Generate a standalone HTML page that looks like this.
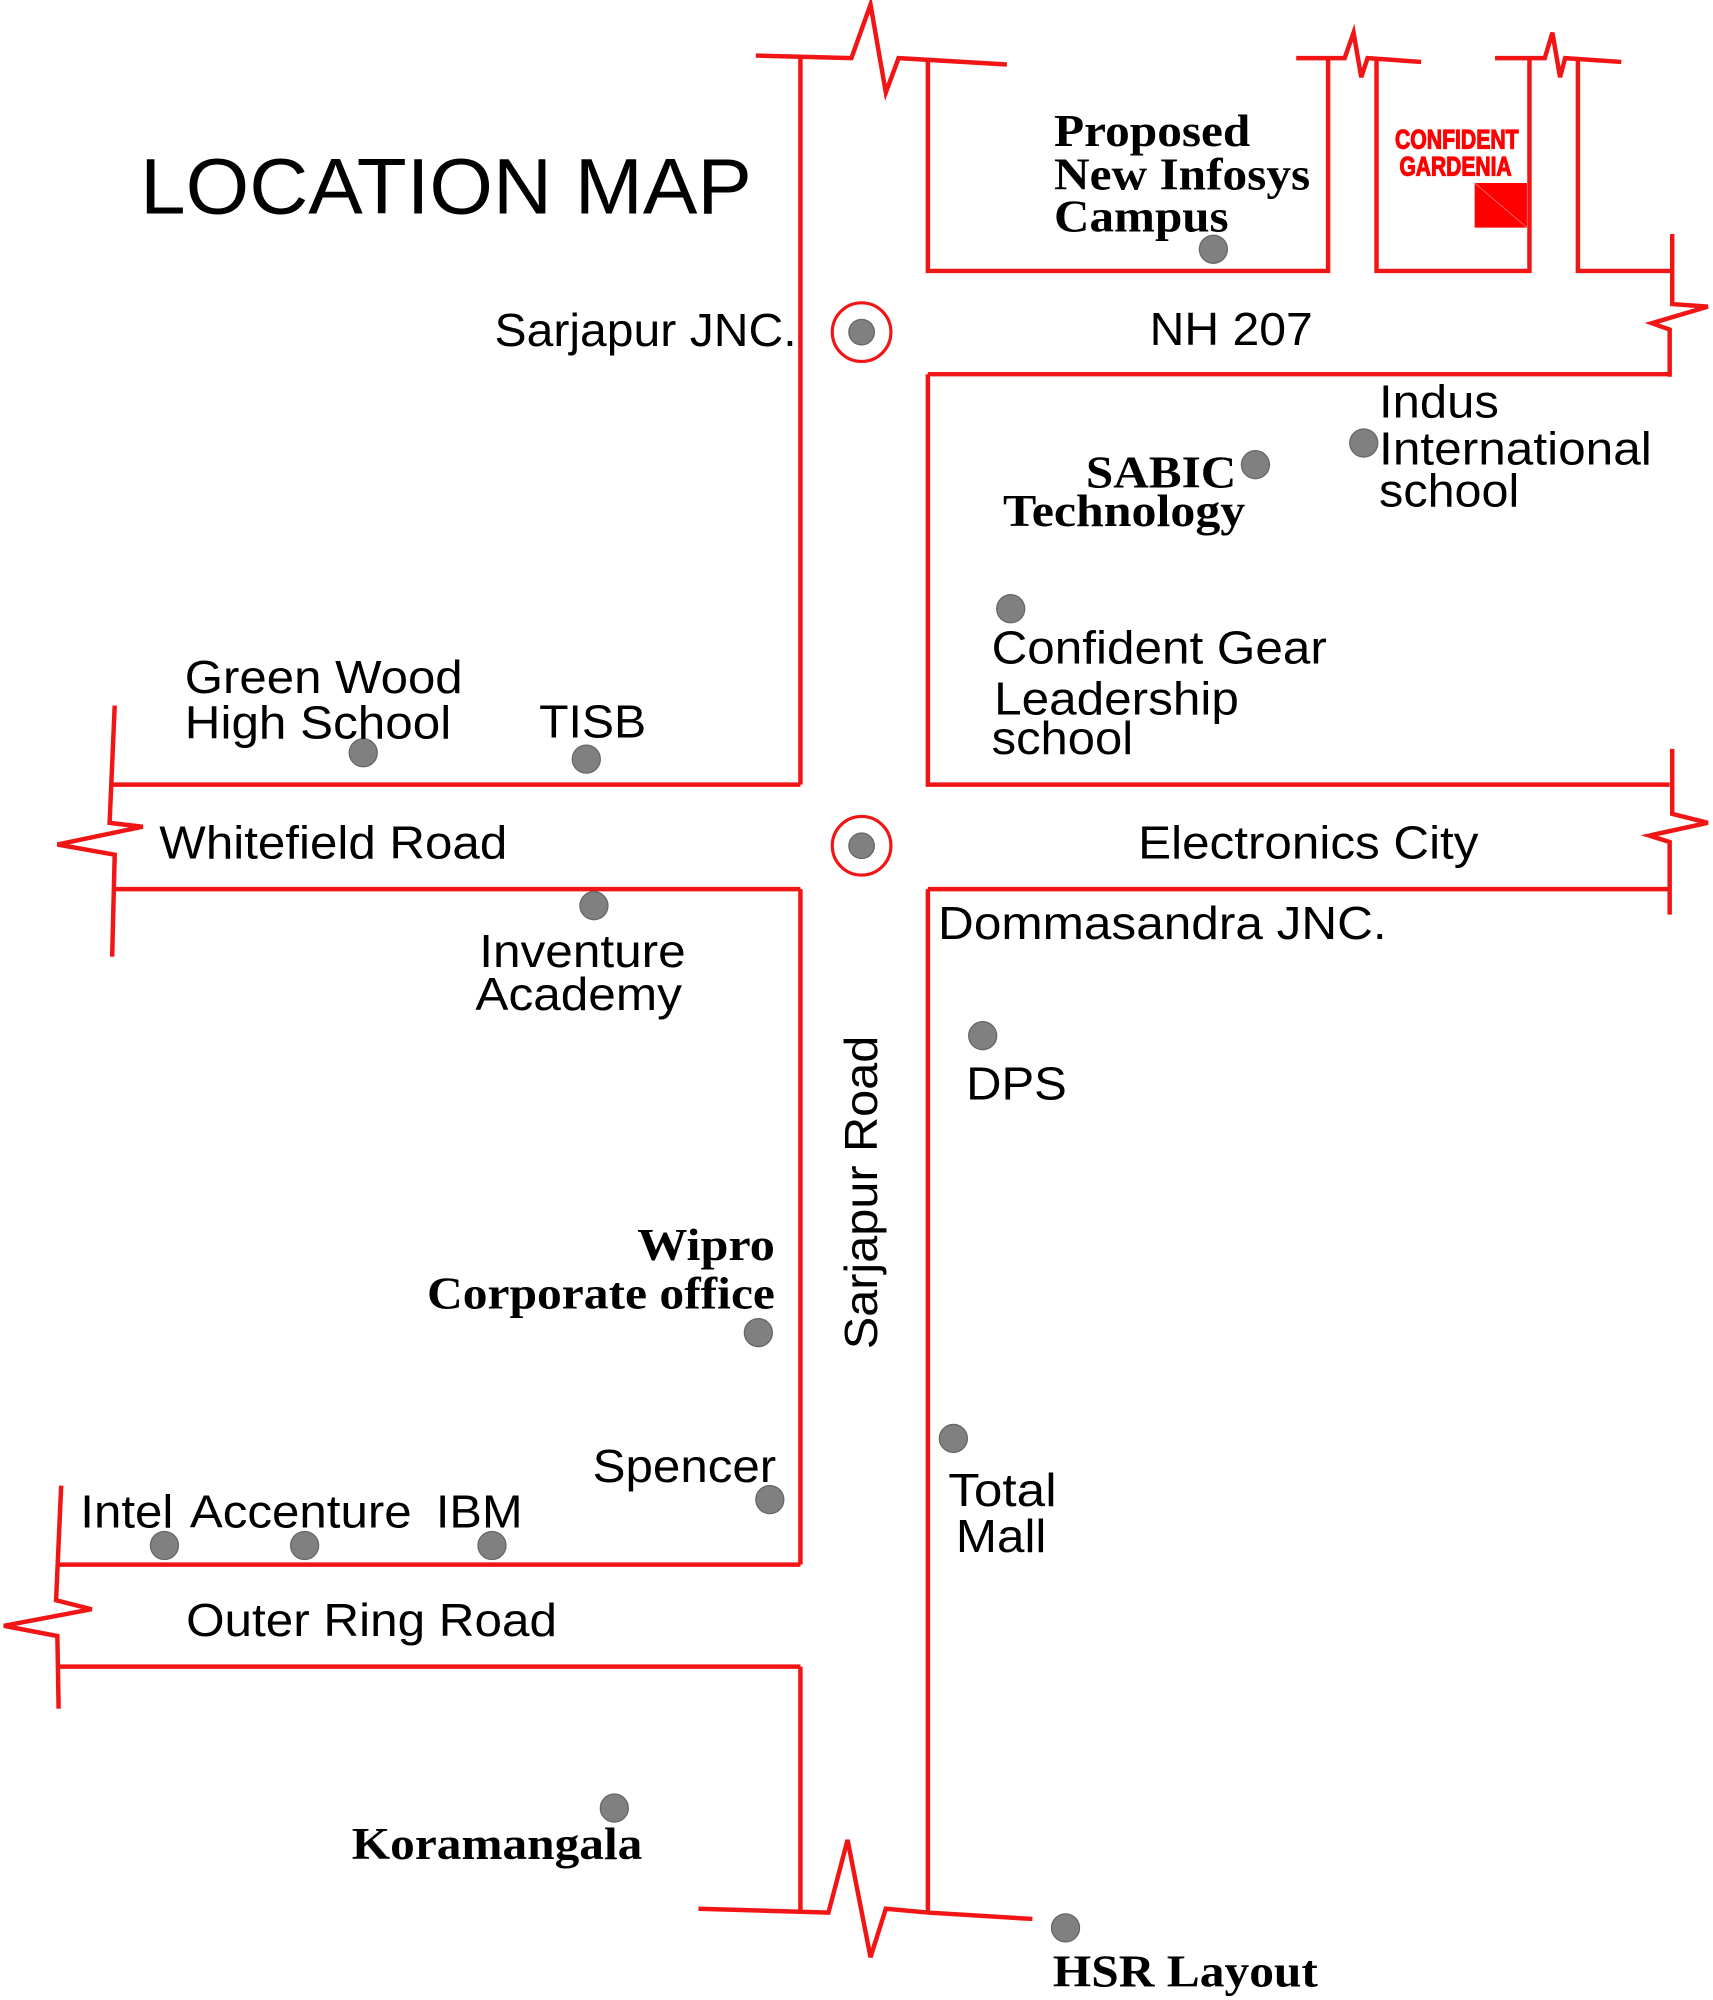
<!DOCTYPE html>
<html><head><meta charset="utf-8"><style>html,body{margin:0;padding:0;background:#fff}svg{display:block}</style></head>
<body>
<svg width="1713" height="2000" viewBox="0 0 1344 1568" xmlns="http://www.w3.org/2000/svg">
<g fill="none" stroke="#f21515" stroke-width="3.5" stroke-linejoin="miter">
<polyline points="628,45 628,615"/>
<polyline points="628,697 628,1227"/>
<polyline points="628,1307 628,1500"/>
<polyline points="728,45 728,212 1042,212 1042,45"/>
<polyline points="1080,45 1080,212 1200,212 1200,45"/>
<polyline points="1238,45 1238,212 1312,212"/>
<polyline points="728,293 728,615 1310,615"/>
<polyline points="728,293 1310,293"/>
<polyline points="728,697 728,1500"/>
<polyline points="728,697 1310,697"/>
<polyline points="593,43 668,45 683,3 695,72 705,45 790,50"/>
<polyline points="1017,45 1055,45 1062,25 1068,60 1073,45 1115,48"/>
<polyline points="1173,45 1212,45 1218,25 1224,60 1228,45 1272,48"/>
<polyline points="1312,183 1312,238 1340,240 1296,253 1310,258 1310,295"/>
<polyline points="1312,587 1312,638 1340,645 1294,655 1310,660 1310,717"/>
<polyline points="628,615 88,615"/>
<polyline points="628,697 88,697"/>
<polyline points="90,553 86,645 112,648 45,662 90,670 88,750"/>
<polyline points="628,1227 45,1227"/>
<polyline points="628,1307 45,1307"/>
<polyline points="48,1165 44,1255 72,1262 3,1275 45,1283 46,1340"/>
<polyline points="548,1497 650,1500 665,1443 683,1535 695,1497 728,1500 810,1505"/>
<circle cx="676" cy="260" r="23" stroke-width="2.5"/>
<circle cx="676" cy="663" r="23" stroke-width="2.5"/>
</g>
<g fill="#808080" stroke="#666" stroke-width="1">
<circle cx="676" cy="260" r="10"/><circle cx="676" cy="663" r="10"/>
<circle cx="952" cy="195" r="11"/><circle cx="985" cy="364" r="11"/><circle cx="1070" cy="347" r="11"/>
<circle cx="793" cy="477" r="11"/><circle cx="285" cy="590" r="11"/><circle cx="460" cy="595" r="11"/>
<circle cx="466" cy="710" r="11"/><circle cx="771" cy="812" r="11"/><circle cx="595" cy="1045" r="11"/>
<circle cx="604" cy="1176" r="11"/><circle cx="748" cy="1128" r="11"/><circle cx="129" cy="1212" r="11"/>
<circle cx="239" cy="1212" r="11"/><circle cx="386" cy="1212" r="11"/><circle cx="482" cy="1418" r="11"/>
<circle cx="836" cy="1512" r="11"/>
</g>
<rect x="1157" y="143" width="41" height="35" fill="#ff0000"/>
<line x1="1157" y1="143" x2="1198" y2="178" stroke="#ff6060" stroke-width="0.8"/>
<g fill="#ff0000" stroke="#ff0000" stroke-width="0.9" font-family="'Liberation Sans', sans-serif" font-weight="bold" font-size="21" text-anchor="middle">
<text x="1143" y="116" textLength="97" lengthAdjust="spacingAndGlyphs">CONFIDENT</text>
<text x="1142" y="137" textLength="88" lengthAdjust="spacingAndGlyphs">GARDENIA</text>
</g>
<g fill="#000" font-family="'Liberation Sans', sans-serif" font-size="36" lengthAdjust="spacingAndGlyphs">
<text x="110" y="167" font-size="62" textLength="480" lengthAdjust="spacingAndGlyphs">LOCATION MAP</text>
<text x="388" y="271" textLength="237" lengthAdjust="spacingAndGlyphs">Sarjapur JNC.</text>
<text x="902" y="270" textLength="128" lengthAdjust="spacingAndGlyphs">NH 207</text>
<text x="1082" y="327" textLength="94" lengthAdjust="spacingAndGlyphs">Indus</text>
<text x="1082" y="364" textLength="214" lengthAdjust="spacingAndGlyphs">International</text>
<text x="1082" y="397" textLength="110" lengthAdjust="spacingAndGlyphs">school</text>
<text x="778" y="520" textLength="263" lengthAdjust="spacingAndGlyphs">Confident Gear</text>
<text x="780" y="560" textLength="192" lengthAdjust="spacingAndGlyphs">Leadership</text>
<text x="778" y="591" textLength="111" lengthAdjust="spacingAndGlyphs">school</text>
<text x="145" y="543" textLength="218" lengthAdjust="spacingAndGlyphs">Green Wood</text>
<text x="145" y="579" textLength="209" lengthAdjust="spacingAndGlyphs">High School</text>
<text x="423" y="578" textLength="84" lengthAdjust="spacingAndGlyphs">TISB</text>
<text x="125" y="673" textLength="273" lengthAdjust="spacingAndGlyphs">Whitefield Road</text>
<text x="893" y="673" textLength="267" lengthAdjust="spacingAndGlyphs">Electronics City</text>
<text x="736" y="736" textLength="352" lengthAdjust="spacingAndGlyphs">Dommasandra JNC.</text>
<text x="376" y="758" textLength="162" lengthAdjust="spacingAndGlyphs">Inventure</text>
<text x="373" y="792" textLength="162" lengthAdjust="spacingAndGlyphs">Academy</text>
<text x="758" y="862" textLength="79" lengthAdjust="spacingAndGlyphs">DPS</text>
<text x="465" y="1162" textLength="144" lengthAdjust="spacingAndGlyphs">Spencer</text>
<text x="63" y="1198" textLength="73" lengthAdjust="spacingAndGlyphs">Intel</text>
<text x="149" y="1198" textLength="174" lengthAdjust="spacingAndGlyphs">Accenture</text>
<text x="342" y="1198" textLength="68" lengthAdjust="spacingAndGlyphs">IBM</text>
<text x="744" y="1181" textLength="85" lengthAdjust="spacingAndGlyphs">Total</text>
<text x="750" y="1217" textLength="71" lengthAdjust="spacingAndGlyphs">Mall</text>
<text x="146" y="1283" textLength="291" lengthAdjust="spacingAndGlyphs">Outer Ring Road</text>
<text transform="translate(688,1058) rotate(-90)" textLength="246" lengthAdjust="spacingAndGlyphs">Sarjapur Road</text>
</g>
<g fill="#000" font-family="'Liberation Serif', serif" font-weight="bold" font-size="36">
<text x="827" y="114" textLength="154" lengthAdjust="spacingAndGlyphs">Proposed</text>
<text x="827" y="148" textLength="201" lengthAdjust="spacingAndGlyphs">New Infosys</text>
<text x="827" y="181" textLength="137" lengthAdjust="spacingAndGlyphs">Campus</text>
<text x="852" y="382" textLength="118" lengthAdjust="spacingAndGlyphs">SABIC</text>
<text x="787" y="412" textLength="190" lengthAdjust="spacingAndGlyphs">Technology</text>
<text x="500" y="988" textLength="108" lengthAdjust="spacingAndGlyphs">Wipro</text>
<text x="335" y="1026" textLength="273" lengthAdjust="spacingAndGlyphs">Corporate office</text>
<text x="276" y="1458" textLength="228" lengthAdjust="spacingAndGlyphs">Koramangala</text>
<text x="826" y="1558" textLength="208" lengthAdjust="spacingAndGlyphs">HSR Layout</text>
</g>
</svg>
</body></html>
